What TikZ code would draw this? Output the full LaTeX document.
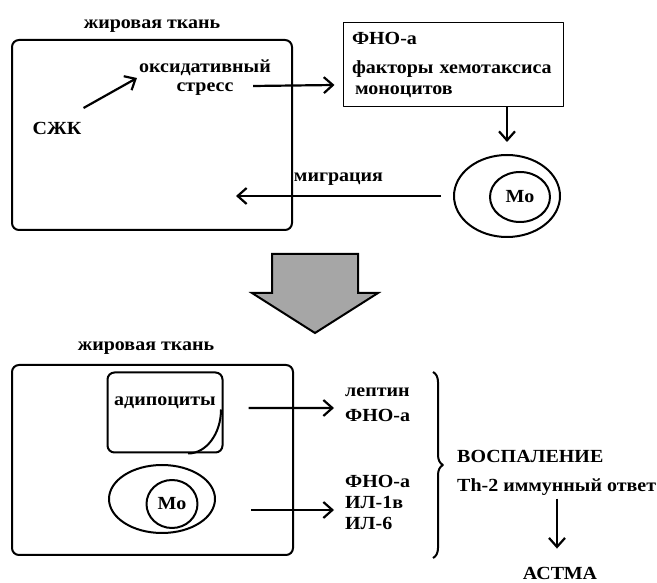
\documentclass[tikz,border=0pt]{standalone}
\usepackage{fontspec}
\setmainfont{Liberation Serif}[FakeStretch=1.08]
\usetikzlibrary{arrows.meta}
\usetikzlibrary{shapes, decorations.pathreplacing}

\begin{document}
\begin{tikzpicture}[>={Straight Barb[length=9bp,width=16bp]},line join=bevel,
  txt/.style={inner sep=0pt,font=\bfseries\fontsize{18.5bp}{21bp}\selectfont},
  tissue/.style={draw,line width=2bp,rounded corners=7bp,minimum width=#1,minimum height=190bp,inner sep=0pt},
  cell/.style={draw,ellipse,line width=2bp,inner sep=0pt},
  link/.style={black,line width=2.2bp,->},
]
\useasboundingbox (0bp,0bp) rectangle (657bp,583bp);
%% upper scheme
\node (title_0) at (152bp,557bp) [txt] {жировая ткань};
  \node (tissue_0) at (152bp,448bp) [tissue=280bp] {};
  \node (ffa) at (57bp,455bp) [txt] {СЖК};
  \node (stress) at (205bp,505bp) [txt,align=center] {оксидативный\\[-2bp]стресс};
  \node (factors) at (453bp,518bp) [draw,line width=1bp,minimum width=220bp,minimum height=84bp,
    inner sep=9bp,text width=202bp,align=left,txt] {ФНО-а\\[8bp]факторы хемотаксиса\\\hspace*{3bp}моноцитов};
  \node (cell_0) at (507bp,387bp) [cell,minimum width=106bp,minimum height=82bp] {};
  \node (mo_0) at (520bp,386bp) [cell,minimum width=60bp,minimum height=50bp,txt] {Мо};
  \draw [link] ([xshift=2bp,yshift=20bp]ffa.east) -- ([xshift=-2bp,yshift=0bp]stress.west);
  \draw [link] ([xshift=-18bp,yshift=-8bp]stress.east) -- ([xshift=-8bp,yshift=-20bp]factors.west);
  \draw [link] (factors.south -| cell_0) -- ([yshift=12bp]cell_0.north);
  \draw [link] ([xshift=-12bp]cell_0.west) -- ([xshift=-57bp]cell_0.west -| tissue_0.east)
    node [midway,above=9bp,txt] (migr) {миграция};
%% transition
\filldraw [fill=gray!70,line width=2bp,line join=miter] (272bp,329bp) -- (358bp,329bp) -- (358bp,290bp)
  -- (378bp,290bp) -- (315bp,250bp) -- (252bp,290bp) -- (272bp,290bp) -- cycle;
%% lower scheme
\node (title_1) at (146bp,235bp) [txt] {жировая ткань};
  \node (tissue_1) at (152.5bp,123bp) [tissue=281bp] {};
  \node (adipo) at (165bp,170.5bp) [draw,line width=2bp,rounded corners=7bp,minimum width=115bp,minimum height=80bp] {};
  \node (adipo_txt) at (165bp,180bp) [txt] {адипоциты};
  \draw [line width=2bp] ([xshift=23bp]adipo.south) arc [start angle=270,end angle=360,x radius=33bp,y radius=44bp];
  \node (cell_1) at (162bp,84bp) [cell,minimum width=106bp,minimum height=68bp] {};
  \node (mo_1) at (172bp,79bp) [cell,minimum width=51bp,minimum height=48bp,txt] {Мо};
  \node (prod_0) at (345bp,178.5bp) [anchor=west,txt,align=left] {лептин\\[4bp]ФНО-а};
  \node (prod_1) at (345bp,81bp) [anchor=west,txt,align=left] {ФНО-а\\ИЛ-1в\\ИЛ-6};
  \draw [link] ([xshift=25bp,yshift=4.5bp]adipo.east) -- ([xshift=-11bp,yshift=-3.5bp]prod_0.west);
  \draw [link] ([xshift=35bp,yshift=-11bp]cell_1.east) -- ([xshift=-11bp,yshift=-8bp]prod_1.west);
  \draw [line width=2bp,decorate,decoration={brace,amplitude=10bp}] (433bp,211bp) -- (433bp,25bp);
  \node (infl) at (457bp,110.5bp) [anchor=west,txt,align=left] {ВОСПАЛЕНИЕ\\[8bp]Th-2 иммунный ответ};
  \node (asthma) at (560bp,10bp) [txt] {АСТМА};
  \draw [link] ([xshift=-3bp,yshift=68bp]asthma.north) -- ([xshift=-3bp,yshift=18bp]asthma.north);
%
\end{tikzpicture}
\end{document}
